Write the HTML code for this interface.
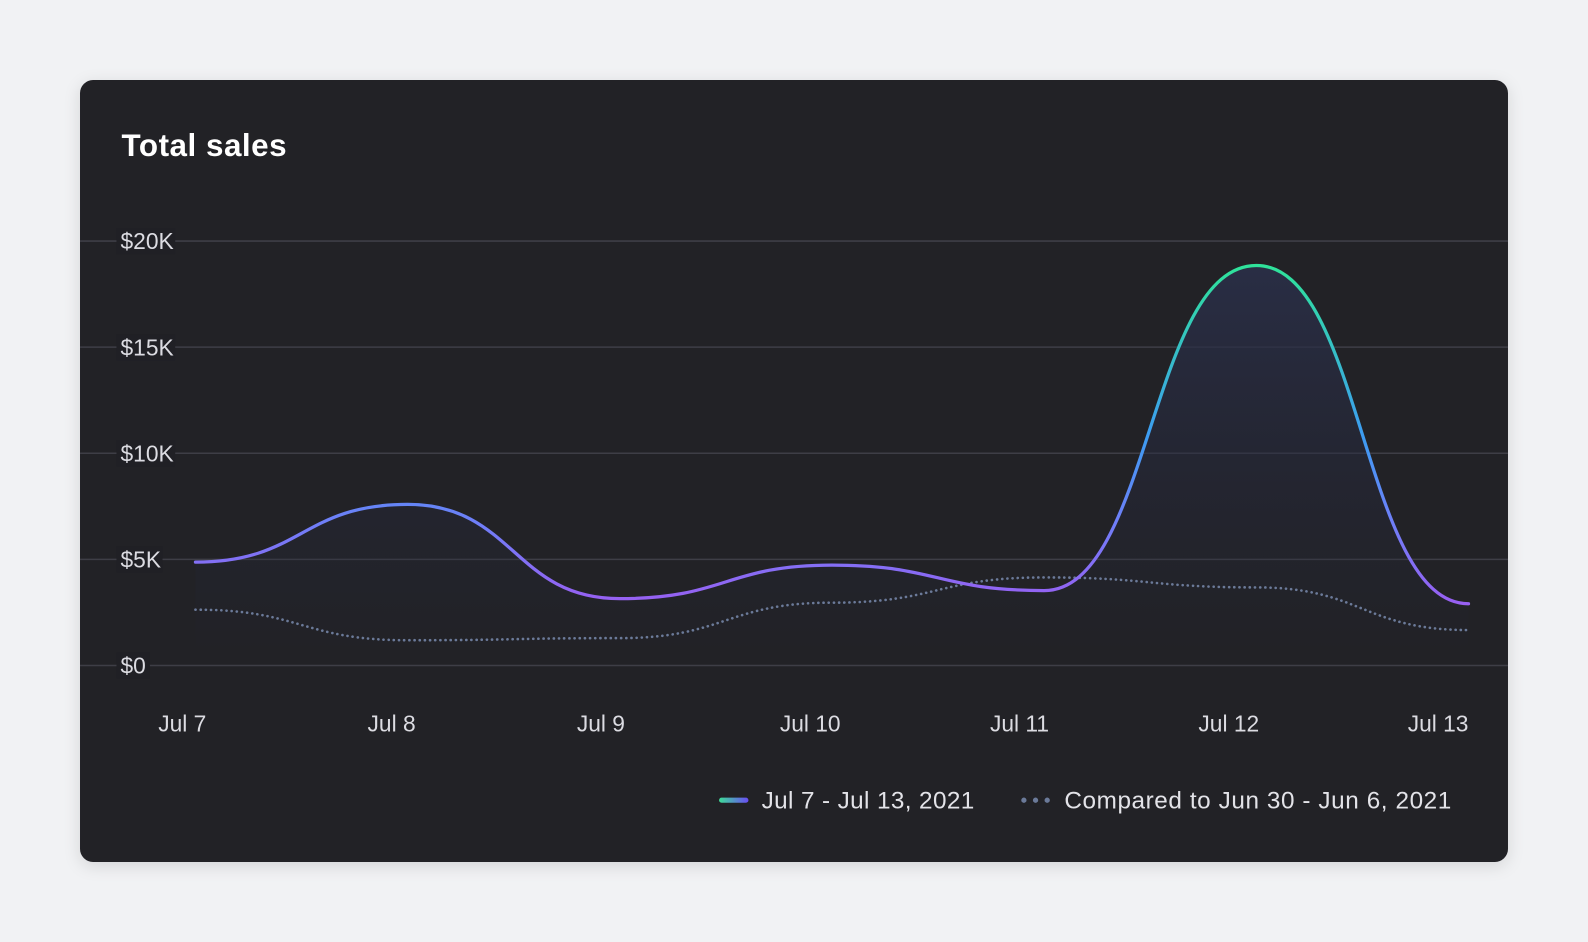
<!DOCTYPE html>
<html><head><meta charset="utf-8"><style>
html,body{margin:0;padding:0;background:#f1f2f4;}
body{width:1588px;height:942px;overflow:hidden;font-family:"Liberation Sans",sans-serif;}
svg{display:block;}
</style></head><body>
<svg id="chart" width="1588" height="942" viewBox="0 0 1568 930" preserveAspectRatio="none" xmlns="http://www.w3.org/2000/svg">
<defs>
<filter id="sh" x="-5%" y="-5%" width="110%" height="115%"><feDropShadow dx="0" dy="4" stdDeviation="8" flood-color="#000" flood-opacity="0.12"/></filter>
<linearGradient id="strokeG" gradientUnits="userSpaceOnUse" x1="0" y1="262" x2="0" y2="600">
<stop offset="0" stop-color="#2fe39a"/><stop offset="0.5" stop-color="#3d9cf2"/><stop offset="0.75" stop-color="#6f7ff8"/><stop offset="1" stop-color="#9a5ef2"/></linearGradient>
<linearGradient id="areaG" gradientUnits="userSpaceOnUse" x1="0" y1="262" x2="0" y2="650">
<stop offset="0" stop-color="#2a2f48" stop-opacity="0.9"/><stop offset="1" stop-color="#23263a" stop-opacity="0"/></linearGradient>
<linearGradient id="legG" x1="0" y1="0" x2="1" y2="0"><stop offset="0" stop-color="#3ddc97"/><stop offset="1" stop-color="#6a4cf5"/></linearGradient>
</defs>
<rect x="79" y="79" width="1410" height="772" rx="13" fill="#202025" filter="url(#sh)"/>
<text x="120" y="154" fill="#ffffff" font-size="31" font-weight="bold" textLength="163">Total sales</text>
<g id="grid"></g>
<g id="series"></g>
<g id="xaxis"></g>
<g>
<rect x="710" y="787.5" width="29" height="5" rx="2.5" fill="url(#legG)"/>
<text x="752" y="798" fill="#e3e3e8" font-size="24" textLength="210">Jul 7 - Jul 13, 2021</text>
<circle cx="1011" cy="790" r="2.6" fill="#6b7a99"/><circle cx="1022.5" cy="790" r="2.6" fill="#6b7a99"/><circle cx="1034" cy="790" r="2.6" fill="#6b7a99"/>
<text x="1051" y="798" fill="#e3e3e8" font-size="24" textLength="382">Compared to Jun 30 - Jun 6, 2021</text>
</g>
</svg>
<script>
const categories = ["Jul 7","Jul 8","Jul 9","Jul 10","Jul 11","Jul 12","Jul 13"];
const currentValues = [4.87, 7.59, 3.15, 4.73, 3.53, 18.85, 2.91];
const compareValues = [2.63, 1.19, 1.29, 2.96, 4.15, 3.68, 1.67];
const yTicks = [0, 5, 10, 15, 20];
const yTickLabels = ["$0","$5K","$10K","$15K","$20K"];

const NS = "http://www.w3.org/2000/svg";
const x0 = 193, x1 = 1450, y0 = 657, y20 = 238;
function xScale(i){ return x0 + (x1 - x0) * i / (categories.length - 1); }
function yScale(v){ return y0 - (y0 - y20) * v / 20; }
function labelX(i){ return 180 + (1420 - 180) * i / (categories.length - 1); }
function mk(tag, attrs, parent){ const e = document.createElementNS(NS, tag); for (const k in attrs) e.setAttribute(k, attrs[k]); parent.appendChild(e); return e; }
function pathFor(vals){
  let d = "M" + xScale(0) + "," + yScale(vals[0]);
  for (let i = 1; i < vals.length; i++) {
    const xa = xScale(i-1), xb = xScale(i), m = (xb - xa) * 0.5;
    d += " C" + (xa + m) + "," + yScale(vals[i-1]) + " " + (xb - m) + "," + yScale(vals[i]) + " " + xb + "," + yScale(vals[i]);
  }
  return d;
}
const grid = document.getElementById("grid");
yTicks.forEach((t, i) => {
  const y = yScale(t);
  const ln = mk("line", {x1: 79, x2: 1489, y1: y, y2: y, stroke: "#3e3e46", "stroke-width": 1.5}, grid);
  
  
  const w = yTickLabels[i].length * 12.5 + 8;
  mk("rect", {x: 115, y: y - 13, width: w, height: 26, fill: "#202025"}, grid);
  const tx = mk("text", {x: 119, y: y + 8, fill: "#dcdce2", "font-size": 22.5}, grid);
  tx.textContent = yTickLabels[i];
  
  
});
const series = document.getElementById("series");
const cd = pathFor(currentValues);
const area = mk("path", {d: cd + " L" + xScale(categories.length-1) + "," + y0 + " L" + xScale(0) + "," + y0 + " Z", fill: "url(#areaG)"}, series);


const cmp = mk("path", {d: pathFor(compareValues), fill: "none", stroke: "#6b7a99", "stroke-width": 2.6, "stroke-dasharray": "0.1 5", "stroke-linecap": "round"}, series);


const cur = mk("path", {d: cd, fill: "none", stroke: "url(#strokeG)", "stroke-width": 3.2, "stroke-linecap": "round"}, series);


const xaxis = document.getElementById("xaxis");
categories.forEach((c, i) => {
  const t = mk("text", {x: labelX(i), y: 722, fill: "#dcdce2", "font-size": 22.5, "text-anchor": "middle"}, xaxis);
  t.textContent = c;
  
  
});
</script>
</body></html>
